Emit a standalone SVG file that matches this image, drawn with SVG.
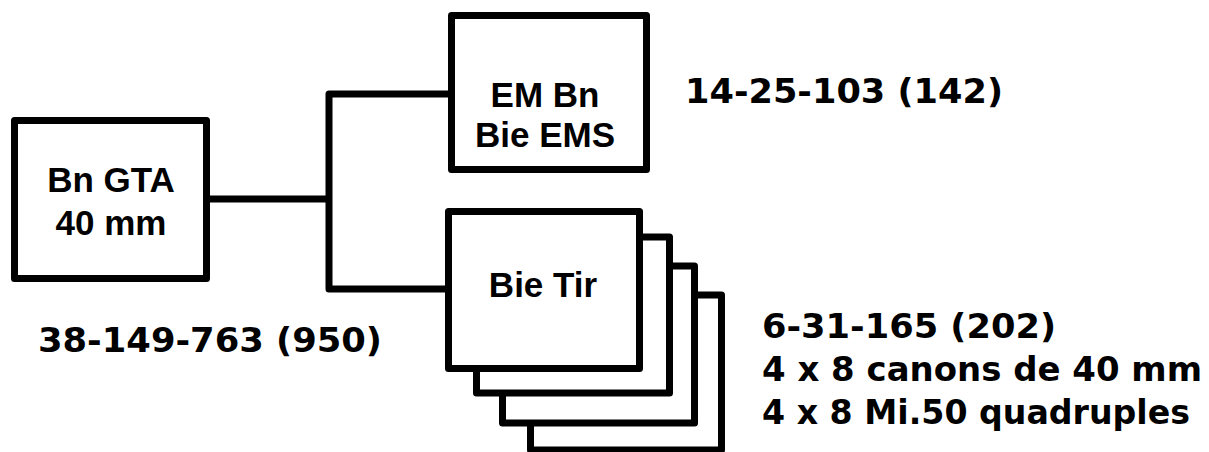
<svg xmlns="http://www.w3.org/2000/svg" width="1209" height="452" viewBox="0 0 1209 452">
<style>
.box{fill:#fff;stroke:#000;stroke-width:7;stroke-linejoin:round}
.conn{fill:none;stroke:#000;stroke-width:7;stroke-linejoin:round}
.bt{font-family:"Liberation Sans",Arial,sans-serif;font-weight:bold;font-size:35px;fill:#000;text-anchor:middle}
.lb{font-family:"DejaVu Sans",Verdana,sans-serif;font-weight:bold;font-size:34px;fill:#000}
</style>
<rect width="1209" height="452" fill="#fff"/>
<g id="connectors">
<path class="conn" d="M207,199 H329"/>
<path class="conn" d="M452,94 H329 V289 H448"/>
</g>
<g id="bn-gta">
<rect class="box" x="14.5" y="120.5" width="192" height="158"/>
<text class="bt" x="111" y="192">Bn GTA</text>
<text class="bt" x="111" y="235">40 mm</text>
<text class="lb" x="38" y="352" textLength="344" lengthAdjust="spacingAndGlyphs">38-149-763 (950)</text>
</g>
<g id="em-bn">
<rect class="box" x="451.5" y="15.5" width="195" height="154"/>
<text class="bt" x="545" y="107">EM Bn</text>
<text class="bt" x="545" y="147">Bie EMS</text>
<text class="lb" x="685" y="103" textLength="318" lengthAdjust="spacingAndGlyphs">14-25-103 (142)</text>
</g>
<g id="bie-tir">
<rect class="box" x="530.5" y="295" width="191" height="155"/>
<rect class="box" x="502.5" y="266" width="192" height="157"/>
<rect class="box" x="476.5" y="237" width="193" height="156"/>
<rect class="box" x="448.5" y="211.5" width="191" height="157"/>
<text class="bt" x="543" y="297">Bie Tir</text>
<text class="lb" x="762" y="338" textLength="294" lengthAdjust="spacingAndGlyphs">6-31-165 (202)</text>
<text class="lb" x="762" y="381" textLength="440" lengthAdjust="spacingAndGlyphs">4 x 8 canons de 40 mm</text>
<text class="lb" x="762" y="424" textLength="428" lengthAdjust="spacingAndGlyphs">4 x 8 Mi.50 quadruples</text>
</g>
</svg>
